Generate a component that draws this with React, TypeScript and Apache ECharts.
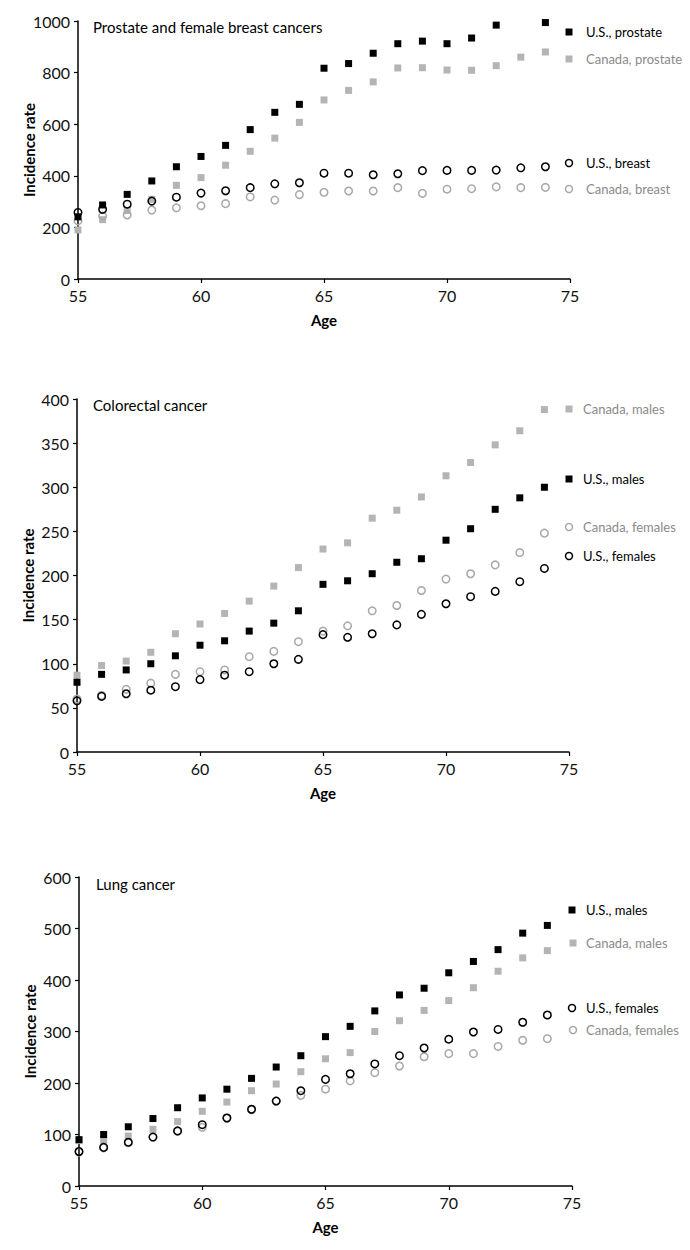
import React, { useEffect, useRef } from "react";
import * as echarts from "echarts";

const AGES = [55, 56, 57, 58, 59, 60, 61, 62, 63, 64, 65, 66, 67, 68, 69, 70, 71, 72, 73, 74];

// Chart 1: Prostate and female breast cancers
const usProstate = [241, 287, 328, 380, 435, 475, 518, 579, 646, 677, 817, 835, 875, 912, 922, 912, 934, 984, 1003, 994];
const canadaProstate = [190, 230, 265, 309, 363, 393, 441, 495, 546, 607, 694, 731, 764, 818, 819, 810, 809, 827, 860, 880];
const usBreast = [258, 270, 290, 302, 317, 333, 342, 354, 369, 373, 410, 410, 404, 408, 420, 421, 421, 422, 431, 435];
const canadaBreast = [225, 244, 248, 267, 276, 284, 292, 318, 306, 327, 336, 341, 341, 354, 332, 348, 350, 357, 354, 355];

// Chart 2: Colorectal cancer
const canadaMalesCRC = [87, 98, 103, 113, 134, 145, 157, 171, 188, 209, 230, 237, 265, 274, 289, 313, 328, 348, 364, 388];
const usMalesCRC = [79, 88, 93, 100, 109, 121, 126, 137, 146, 160, 190, 194, 202, 215, 219, 240, 253, 275, 288, 300];
const canadaFemalesCRC = [60, 64, 71, 78, 88, 91, 93, 108, 114, 125, 137, 143, 160, 166, 183, 196, 202, 212, 226, 248];
const usFemalesCRC = [58, 63, 66, 70, 74, 82, 87, 91, 100, 105, 133, 130, 134, 144, 156, 168, 176, 182, 193, 208];

// Chart 3: Lung cancer
const usMalesLung = [90, 100, 115, 131, 152, 171, 188, 209, 231, 253, 290, 310, 340, 371, 384, 414, 436, 459, 491, 506];
const canadaMalesLung = [88, 88, 97, 110, 125, 145, 163, 185, 198, 222, 247, 259, 300, 321, 341, 360, 385, 417, 443, 457];
const usFemalesLung = [67, 75, 85, 95, 107, 119, 132, 149, 165, 185, 207, 218, 237, 253, 268, 285, 299, 304, 318, 332];
const canadaFemalesLung = [66, 74, 84, 95, 106, 114, 132, 148, 165, 176, 188, 204, 220, 233, 251, 257, 257, 271, 283, 286];

const TITLES = ["Prostate and female breast cancers", "Colorectal cancer", "Lung cancer"];
const Y_MAX = [1000, 400, 600];
const Y_INTERVAL = [200, 50, 100];
const X_MIN = 55;
const X_MAX = 75;
const X_INTERVAL = 5;

const FONT = "Lato, 'Open Sans', sans-serif";
const BLACK = "#000000";
const GRAY = "#b4b4b4";
const GRAY_CIRCLE = "#a8a8a8";
const GRAY_TEXT = "#8a8a8a";

const pairs = (vals: number[]) => AGES.map((a, i) => [a, vals[i]]);

const squareSeries = (name: string, idx: number, vals: number[], color: string, z: number) => ({
  name,
  type: "scatter",
  xAxisIndex: idx,
  yAxisIndex: idx,
  symbol: "rect",
  symbolSize: 7,
  itemStyle: { color, opacity: 1 },
  z,
  data: pairs(vals),
});

const circleSeries = (name: string, idx: number, vals: number[], color: string, z: number) => ({
  name,
  type: "scatter",
  xAxisIndex: idx,
  yAxisIndex: idx,
  symbol: "circle",
  symbolSize: 7.5,
  itemStyle: { color: "rgba(255,255,255,0)", borderColor: color, borderWidth: 1.5, opacity: 1 },
  z,
  data: pairs(vals),
});

const legendItem = (kind: "sq" | "ci", color: string, textColor: string, mx: number, tx: number, y: number, text: string) => {
  const marker =
    kind === "sq"
      ? { type: "rect", shape: { x: mx - 3.5, y: y - 3.5, width: 7, height: 7 }, style: { fill: color } }
      : { type: "circle", shape: { cx: mx, cy: y, r: 3.5 }, style: { fill: "#fff", stroke: color, lineWidth: 1.5 } };
  return [
    marker,
    {
      type: "text",
      x: tx,
      y,
      style: { text, fill: textColor, fontSize: 13, fontFamily: FONT, verticalAlign: "middle", align: "left" },
    },
  ];
};

export default function App() {
  const ref = useRef<HTMLDivElement>(null);

  useEffect(() => {
    document.body.style.margin = "0";
    if (!ref.current) return;
    const chart = echarts.init(ref.current, undefined, { renderer: "svg" });

    const grids = [
      { left: 78, top: 21, width: 492, height: 258 },
      { left: 77, top: 399, width: 492, height: 353 },
      { left: 79, top: 877, width: 493, height: 309 },
    ];

    const axisLine = { show: true, lineStyle: { color: "#000", width: 1.5 } };
    const axisTick = { show: true, length: 4, lineStyle: { color: "#000", width: 1.2 } };
    const labelStyle = { color: "#111", fontSize: 16, fontFamily: FONT };
    const nameStyle = { color: "#000", fontSize: 15, fontWeight: "bold", fontFamily: FONT };

    const xAxis = grids.map((_, i) => ({
      type: "value",
      gridIndex: i,
      min: X_MIN,
      max: X_MAX,
      interval: X_INTERVAL,
      name: "Age",
      nameLocation: "middle",
      nameGap: 33,
      nameMoveOverlap: false,
      nameTextStyle: nameStyle,
      axisLine,
      axisTick,
      axisLabel: { ...labelStyle, margin: 8, formatter: (v: number) => String(v) },
      splitLine: { show: false },
    }));

    const yAxis = grids.map((_, i) => ({
      type: "value",
      gridIndex: i,
      min: 0,
      max: Y_MAX[i],
      interval: Y_INTERVAL[i],
      name: "Incidence rate",
      nameLocation: "middle",
      nameRotate: 90,
      nameGap: 42,
      nameMoveOverlap: false,
      nameTextStyle: nameStyle,
      axisLine,
      axisTick,
      axisLabel: { ...labelStyle, margin: 8, formatter: (v: number) => String(v) },
      splitLine: { show: false },
    }));

    const series = [
      squareSeries("Canada, prostate", 0, canadaProstate, GRAY, 2),
      circleSeries("Canada, breast", 0, canadaBreast, GRAY_CIRCLE, 3),
      squareSeries("U.S., prostate", 0, usProstate, BLACK, 4),
      circleSeries("U.S., breast", 0, usBreast, BLACK, 5),

      squareSeries("Canada, males", 1, canadaMalesCRC, GRAY, 2),
      circleSeries("Canada, females", 1, canadaFemalesCRC, GRAY_CIRCLE, 3),
      squareSeries("U.S., males", 1, usMalesCRC, BLACK, 4),
      circleSeries("U.S., females", 1, usFemalesCRC, BLACK, 5),

      squareSeries("Canada, males", 2, canadaMalesLung, GRAY, 2),
      circleSeries("Canada, females", 2, canadaFemalesLung, GRAY_CIRCLE, 3),
      squareSeries("U.S., males", 2, usMalesLung, BLACK, 4),
      circleSeries("U.S., females", 2, usFemalesLung, BLACK, 5),
    ];

    const graphic = [
      ...legendItem("sq", BLACK, "#000", 569, 586, 32, "U.S., prostate"),
      ...legendItem("sq", GRAY, GRAY_TEXT, 569, 586, 59, "Canada, prostate"),
      ...legendItem("ci", BLACK, "#000", 569, 586, 163, "U.S., breast"),
      ...legendItem("ci", GRAY_CIRCLE, GRAY_TEXT, 569, 586, 189, "Canada, breast"),

      ...legendItem("sq", GRAY, GRAY_TEXT, 569, 583, 409, "Canada, males"),
      ...legendItem("sq", BLACK, "#000", 569, 583, 479, "U.S., males"),
      ...legendItem("ci", GRAY_CIRCLE, GRAY_TEXT, 569, 583, 527, "Canada, females"),
      ...legendItem("ci", BLACK, "#000", 569, 583, 556, "U.S., females"),

      ...legendItem("sq", BLACK, "#000", 572, 586, 910, "U.S., males"),
      ...legendItem("sq", GRAY, GRAY_TEXT, 573, 586, 943, "Canada, males"),
      ...legendItem("ci", BLACK, "#000", 572, 586, 1008, "U.S., females"),
      ...legendItem("ci", GRAY_CIRCLE, GRAY_TEXT, 573, 586, 1030, "Canada, females"),
    ];

    const titlePos = [
      { left: 93, top: 19 },
      { left: 93, top: 397 },
      { left: 96, top: 876 },
    ];

    chart.setOption({
      animation: false,
      backgroundColor: "#ffffff",
      title: TITLES.map((t, i) => ({
        text: t,
        left: titlePos[i].left,
        top: titlePos[i].top,
        padding: 0,
        textStyle: { color: "#000", fontSize: 15, fontWeight: "normal", fontFamily: FONT },
      })),
      grid: grids,
      xAxis,
      yAxis,
      series,
      graphic,
    });

    return () => chart.dispose();
  }, []);

  return <div ref={ref} style={{ width: 690, height: 1250 }} />;
}
